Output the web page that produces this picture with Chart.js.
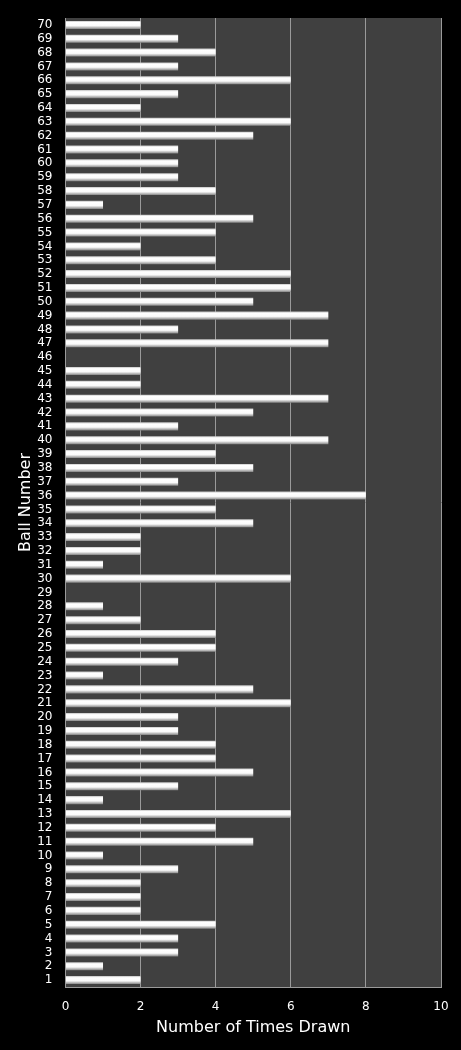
<!DOCTYPE html>
<html>
<head>
<meta charset="utf-8">
<script src="https://cdn.jsdelivr.net/npm/chart.js@4"></script>
<style>
  html, body { margin: 0; padding: 0; background: #000; }
  #wrap { width: 461px; height: 1050px; position: relative; }
</style>
</head>
<body>
<div id="wrap"><canvas id="draws_chart"></canvas></div>
<script>
// ball numbers 1..70 and how often each was drawn
const balls = [];
for (let i = 1; i <= 70; i++) balls.push(String(i));

const timesDrawn = [
    2, 1, 3, 3, 4, 2, 2, 2, 3, 1,
    5, 4, 6, 1, 3, 5, 4, 4, 3, 3,
    6, 5, 1, 3, 4, 4, 2, 1, 0, 6,
    1, 2, 2, 5, 4, 8, 3, 5, 4, 7,
    3, 5, 7, 2, 2, 0, 7, 3, 7, 5,
    6, 6, 4, 2, 4, 5, 1, 4, 3, 3,
    3, 5, 6, 2, 3, 6, 3, 4, 3, 2
];

const xTicks = [0, 2, 4, 6, 8, 10];

const plotBg = {
    id: 'plotBg',
    beforeDraw(chart) {
        const { ctx, chartArea: a } = chart;
        ctx.save();
        ctx.fillStyle = '#404040';
        ctx.fillRect(a.left, a.top, a.right - a.left, a.bottom - a.top);
        ctx.restore();
    }
};

// glossy look: light top edge, white body, grey lower edge
const barFill = (context) => {
    const chart = context.chart;
    if (!chart.chartArea || !chart.scales.y) return '#eeeeee';
    const y = chart.scales.y.getPixelForValue(context.dataIndex);
    const g = chart.ctx.createLinearGradient(0, y - 4, 0, y + 4);
    g.addColorStop(0, '#c4c4c4');
    g.addColorStop(0.2, '#ffffff');
    g.addColorStop(0.6, '#fafafa');
    g.addColorStop(1, '#858585');
    return g;
};

// keep the tick labels from pushing the plot edges in
const noEdgePadding = (scale) => {
    scale.paddingTop = 0;
    scale.paddingBottom = 0;
    scale.paddingLeft = 0;
    scale.paddingRight = 0;
};

const font = 'DejaVu Sans';

const config = {
    type: 'bar',
    data: {
        labels: balls,
        datasets: [{
            data: timesDrawn,
            backgroundColor: barFill,
            borderWidth: 0,
            categoryPercentage: 0.58,
            barPercentage: 1
        }]
    },
    options: {
        indexAxis: 'y',
        responsive: true,
        maintainAspectRatio: false,
        animation: false,
        layout: { padding: { top: 18, right: 20, bottom: 13, left: 8 } },
        plugins: {
            legend: { display: false },
            tooltip: { enabled: false }
        },
        scales: {
            x: {
                min: 0,
                max: 10,
                afterBuildTicks: (axis) => { axis.ticks = xTicks.map(v => ({ value: v })); },
                afterFit: noEdgePadding,
                ticks: {
                    color: '#ffffff',
                    font: { family: font, size: 12 },
                    padding: 13
                },
                grid: {
                    color: '#9a9a9a',
                    lineWidth: 1,
                    drawTicks: false
                },
                border: { display: true, color: '#9a9a9a' },
                title: {
                    display: true,
                    text: 'Number of Times Drawn',
                    color: '#ffffff',
                    font: { family: font, size: 16 },
                    padding: { top: -9.6, bottom: 0 }
                }
            },
            y: {
                reverse: true,
                afterFit: noEdgePadding,
                ticks: {
                    color: '#ffffff',
                    font: { family: font, size: 12 },
                    autoSkip: false,
                    padding: 13
                },
                grid: { display: false, drawTicks: false },
                border: { display: true, color: '#9a9a9a' },
                title: {
                    display: true,
                    text: 'Ball Number',
                    color: '#ffffff',
                    font: { family: font, size: 16 },
                    padding: { top: 8, bottom: -11 }
                }
            }
        }
    },
    plugins: [plotBg]
};

const drawsChart = new Chart(document.getElementById('draws_chart'), config);
</script>
</body>
</html>
